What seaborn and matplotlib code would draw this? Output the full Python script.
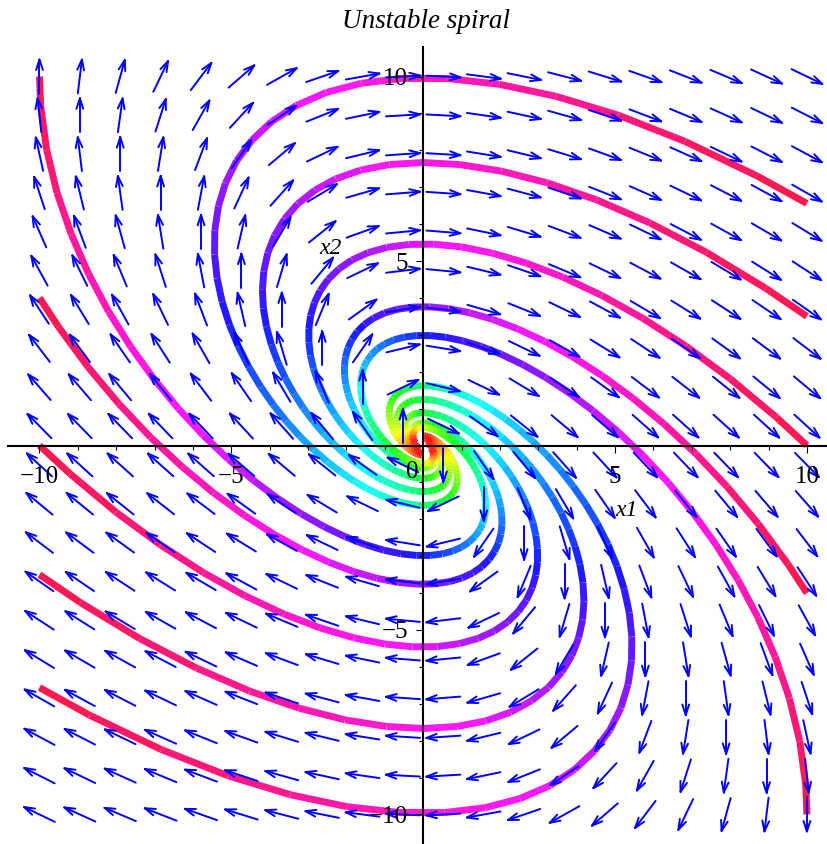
import numpy as np
import matplotlib
matplotlib.use("Agg")
import matplotlib.pyplot as plt
import seaborn as sns
from matplotlib.collections import LineCollection
from matplotlib.colors import hsv_to_rgb
from matplotlib.ticker import MultipleLocator
from matplotlib.transforms import ScaledTranslation

# Linear system  x1' = x1 + x2 ,  x2' = -x1   (unstable focus at the origin)
system_matrix = [[1.0, 1.0],
                 [-1.0, 0.0]]

# Points where each plotted orbit leaves the window (orbits are traced back in time from here)
exit_x1 = [10.0, 10.0, 10.0, 10.0, 10.0, -10.0, -10.0, -10.0, -10.0, -10.0]
exit_x2 = [6.56, 3.5, 0.0, -4.0, -10.0, -6.56, -3.5, 0.0, 4.0, 10.0]

# Time span traced back from the exit point, and the hue coding of time
trace_time = 8.0
time_step = 0.12
hue_at_exit = 0.965
hue_per_time = 0.127

# Direction-field grid
field_x1 = np.linspace(-10, 10, 20)
field_x2 = np.linspace(-10, 10, 20)

major_ticks = [-10, -5, 0, 5, 10]
tick_labels = ["\u221210", "\u22125", "0", "5", "10"]

sns.set_style("ticks")
plt.rcParams["font.family"] = ["Liberation Serif", "DejaVu Serif"]
plt.rcParams["axes.unicode_minus"] = True
for key in ("text.color", "axes.labelcolor", "xtick.color", "ytick.color"):
    plt.rcParams[key] = "black"

A = np.array(system_matrix)
W, V = np.linalg.eig(A)
Vinv = np.linalg.inv(V)


def flow(p0, times):
    c = Vinv @ np.asarray(p0, dtype=complex)
    pts = (V @ (np.exp(np.outer(W, times)) * c[:, None])).real
    return pts.T


fig = plt.figure(figsize=(8.28, 8.44), dpi=100)
ax = fig.add_axes([8 / 828, 0.0, 820 / 828, 797 / 844])
ax.set_xlim(-10.82, 10.55)
ax.set_ylim(-10.8, 10.8)

# ---- orbits, coloured by time ----
times = np.arange(-trace_time, 1e-9, time_step)
if times[-1] < 0:
    times = np.append(times, 0.0)
for x0, y0 in zip(exit_x1, exit_x2):
    pts = flow((x0, y0), times)
    segs = np.stack([pts[:-1], pts[1:]], axis=1)
    tmid = 0.5 * (times[:-1] + times[1:])
    hue = np.clip(hue_at_exit + hue_per_time * tmid, 0, 1)
    hsv = np.stack([hue, np.full_like(hue, 0.9), np.ones_like(hue)], axis=1)
    lc = LineCollection(segs, colors=hsv_to_rgb(hsv), linewidths=5.0,
                        capstyle="butt", joinstyle="round", zorder=2)
    ax.add_collection(lc)

# ---- direction field: equal-length arrows in screen space ----
p0 = ax.transData.transform((0.0, 0.0))
p1 = ax.transData.transform((1.0, 1.0))
sx, sy = p1 - p0
L, H, ang = 34.0, 11.0, np.deg2rad(18)
arrow_segs = []
for gx in field_x1:
    for gy in field_x2:
        u, v = A @ np.array([gx, gy])
        du, dv = u * sx, v * sy
        n = np.hypot(du, dv)
        if n == 0:
            continue
        ux, uy = du / n, dv / n
        tail = np.array([-ux, -uy]) * L / 2
        tip = np.array([ux, uy]) * L / 2
        pieces = [(tail, tip)]
        for s in (1, -1):
            c, sn = np.cos(s * ang), np.sin(s * ang)
            bx = -ux * c + uy * sn
            by = -ux * sn - uy * c
            pieces.append((tip, tip + H * np.array([bx, by])))
        for a, b in pieces:
            arrow_segs.append([(gx + a[0] / sx, gy + a[1] / sy),
                               (gx + b[0] / sx, gy + b[1] / sy)])
ax.add_collection(LineCollection(arrow_segs, colors="#0000ff", linewidths=1.4,
                                 capstyle="round", zorder=3))

# ---- axes through the origin ----
for side in ("top", "right"):
    ax.spines[side].set_visible(False)
for side in ("left", "bottom"):
    ax.spines[side].set_position(("data", 0))
    ax.spines[side].set_linewidth(1.5)
    ax.spines[side].set_color("black")
    ax.spines[side].set_zorder(5)
ax.xaxis.set_zorder(5)
ax.yaxis.set_zorder(5)

ax.set_xticks(major_ticks)
ax.set_xticklabels(tick_labels)
ax.set_yticks([t for t in major_ticks if t != 0])
ax.set_yticklabels([l for t, l in zip(major_ticks, tick_labels) if t != 0])
ax.xaxis.set_minor_locator(MultipleLocator(1))
ax.yaxis.set_minor_locator(MultipleLocator(1))
ax.tick_params(which="major", length=5, width=0.8, direction="out",
               labelsize=18, color="black", labelcolor="black")
ax.tick_params(axis="x", which="major", pad=9.5)
ax.tick_params(axis="y", which="major", pad=6)
ax.tick_params(which="minor", length=3, width=0.8, direction="out", color="black")

for lab, t in zip(ax.get_xticklabels(), major_ticks):
    if t == 0:
        lab.set_transform(lab.get_transform() +
                          ScaledTranslation(-11 / 100, 5 / 100, fig.dpi_scale_trans))

ax.text(5.29, -1.77, "x1", fontsize=17, style="italic", ha="center", va="center",
        color="black", zorder=6)
ax.text(-2.42, 5.33, "x2", fontsize=17, style="italic", ha="center", va="center",
        color="black", zorder=6)

fig.text(426 / 828, 1 - 22 / 844, "Unstable spiral", fontsize=19.5, style="italic",
         ha="center", va="center", color="black")

fig.savefig("out.png", dpi=100, facecolor="white")
